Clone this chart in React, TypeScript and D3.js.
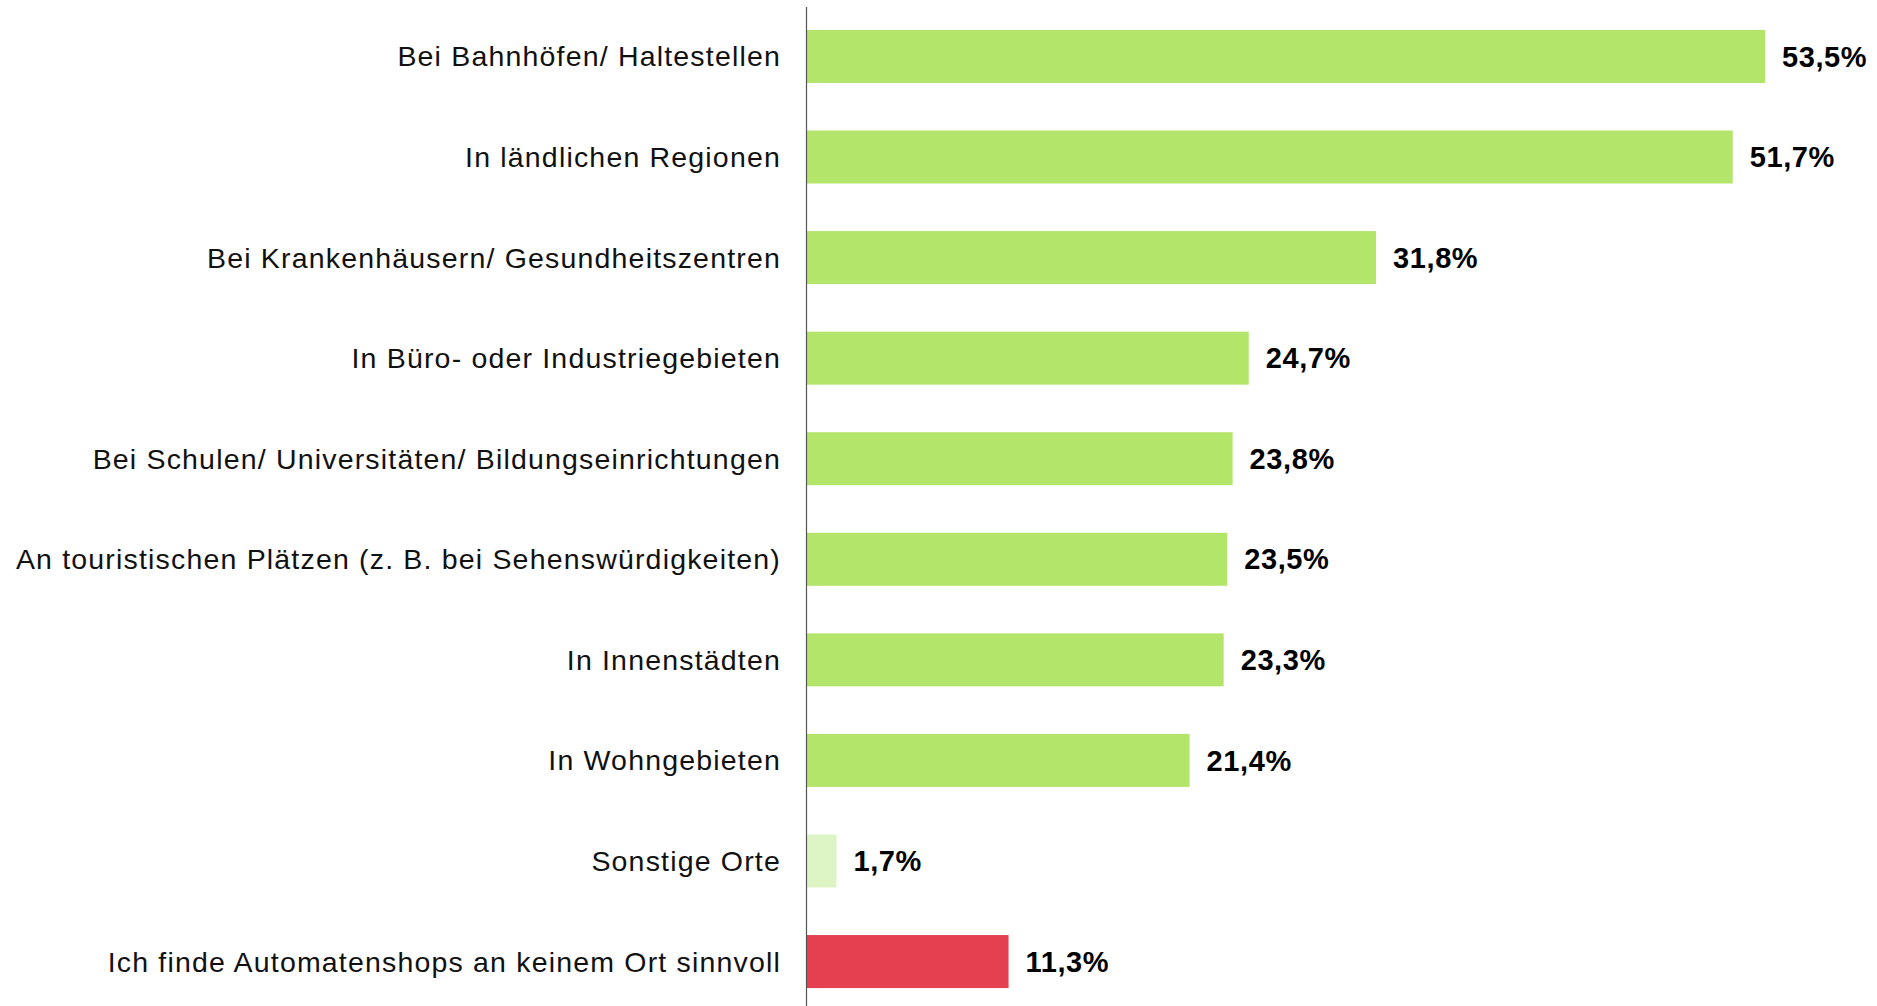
import React, { useEffect, useRef } from "react";
import * as d3 from "d3";

const categories = [
  "Bei Bahnhöfen/ Haltestellen",
  "In ländlichen Regionen",
  "Bei Krankenhäusern/ Gesundheitszentren",
  "In Büro- oder Industriegebieten",
  "Bei Schulen/ Universitäten/ Bildungseinrichtungen",
  "An touristischen Plätzen (z. B. bei Sehenswürdigkeiten)",
  "In Innenstädten",
  "In Wohngebieten",
  "Sonstige Orte",
  "Ich finde Automatenshops an keinem Ort sinnvoll",
];
const values = [53.5, 51.7, 31.8, 24.7, 23.8, 23.5, 23.3, 21.4, 1.7, 11.3];
const barColors = [
  "#b2e56a", "#b2e56a", "#b2e56a", "#b2e56a", "#b2e56a",
  "#b2e56a", "#b2e56a", "#b2e56a", "#ddf5c4", "#e44050",
];

const App = () => {
  const ref = useRef<SVGSVGElement | null>(null);

  useEffect(() => {
    const svg = d3.select(ref.current);
    svg.selectAll("*").remove();

    const width = 1877;
    const height = 1006;
    const x0 = 806;

    const x = d3.scaleLinear().domain([0, 53.5]).range([x0, 1765]);
    const y = d3
      .scaleBand()
      .domain(categories)
      .range([4, 1014])
      .paddingInner(0.473)
      .paddingOuter(0.258);

    const data = categories.map((c, i) => ({ c, v: values[i], color: barColors[i] }));

    svg
      .selectAll(".bar")
      .data(data)
      .enter()
      .append("rect")
      .attr("x", x0)
      .attr("y", (d) => y(d.c)!)
      .attr("width", (d) => x(d.v) - x0)
      .attr("height", y.bandwidth())
      .attr("fill", (d) => d.color);

    svg
      .append("line")
      .attr("x1", x0 + 0.5)
      .attr("x2", x0 + 0.5)
      .attr("y1", 7)
      .attr("y2", height)
      .attr("stroke", "#555")
      .attr("stroke-width", 1.2);

    svg
      .selectAll(".label")
      .data(data)
      .enter()
      .append("text")
      .attr("x", x0 - 25)
      .attr("y", (d) => y(d.c)! + y.bandwidth() / 2)
      .attr("dy", "0.35em")
      .attr("text-anchor", "end")
      .style("font-family", "'Liberation Sans', Arial, sans-serif")
      .style("font-size", "28.5px")
      .style("letter-spacing", "1.18px")
      .style("fill", "#111")
      .text((d) => d.c);

    svg
      .selectAll(".value")
      .data(data)
      .enter()
      .append("text")
      .attr("x", (d) => x(d.v) + 17)
      .attr("y", (d) => y(d.c)! + y.bandwidth() / 2)
      .attr("dy", "0.35em")
      .style("font-family", "'Liberation Sans', Arial, sans-serif")
      .style("font-size", "29px")
      .style("letter-spacing", "0.6px")
      .style("font-weight", "700")
      .style("fill", "#000")
      .text((d) => d3.format(".1f")(d.v).replace(".", ",") + "%");

    svg.attr("width", width).attr("height", height);
  }, []);

  return (
    <svg
      ref={ref}
      style={{ position: "absolute", left: 0, top: 0, display: "block" }}
    ></svg>
  );
};

export default App;
